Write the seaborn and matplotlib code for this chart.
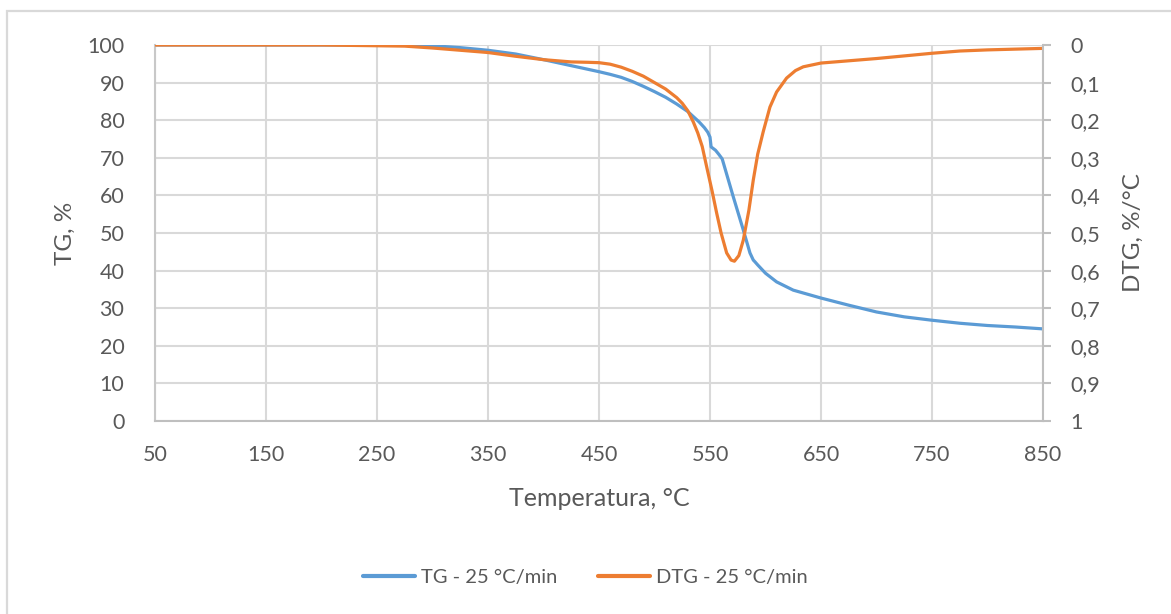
import matplotlib
matplotlib.use("Agg")
import matplotlib.pyplot as plt
import seaborn as sns
from matplotlib.patches import Rectangle
from matplotlib.lines import Line2D

# ---- data ----
tg_temp = [50, 100, 150, 200, 250, 280, 300, 325, 350, 375, 400, 425, 450, 460, 470,
           480, 490, 500, 510, 520, 530, 540, 545, 548, 550, 551, 555, 558, 561, 571,
           580, 586, 589, 590, 593, 600, 610, 625, 650, 675, 700, 725, 750, 775, 800,
           825, 850]
tg_vals = [100, 100, 100, 100, 100, 100, 99.8, 99.3, 98.6, 97.6, 96.1, 94.5, 92.9, 92.2, 91.4,
           90.3, 89.0, 87.6, 86.1, 84.3, 82.3, 79.6, 78.0, 76.8, 75.5, 72.9, 72.0, 70.9, 69.7, 59.6,
           50.8, 44.7, 42.8, 42.5, 41.5, 39.3, 37.0, 34.8, 32.7, 30.8, 29.0, 27.7, 26.8, 26.0, 25.4,
           25.0, 24.5]

dtg_temp = [50, 100, 150, 200, 250, 275, 300, 325, 350, 375, 400, 425, 440, 450, 460,
            470, 480, 490, 500, 510, 520, 525, 530, 535, 539, 543, 547, 552, 556, 560,
            565, 569, 572, 576, 580, 585, 589, 593, 598, 604, 610, 619, 627, 634, 650,
            700, 750, 775, 800, 850]
dtg_vals = [0, 0, 0, 0, 0.002, 0.003, 0.008, 0.014, 0.020, 0.030, 0.039, 0.045, 0.046, 0.047, 0.051,
            0.059, 0.070, 0.083, 0.100, 0.117, 0.140, 0.155, 0.175, 0.205, 0.234, 0.270, 0.324, 0.390, 0.447, 0.500,
            0.553, 0.572, 0.575, 0.560, 0.519, 0.440, 0.359, 0.290, 0.230, 0.165, 0.125, 0.088, 0.068, 0.058, 0.048,
            0.036, 0.022, 0.016, 0.013, 0.009]

x_ticks = [50, 150, 250, 350, 450, 550, 650, 750, 850]
tg_ticks = list(range(0, 101, 10))
dtg_ticks = [0, 0.1, 0.2, 0.3, 0.4, 0.5, 0.6, 0.7, 0.8, 0.9, 1.0]
dtg_ticklabels = ["0", "0,1", "0,2", "0,3", "0,4", "0,5", "0,6", "0,7", "0,8", "0,9", "1"]

tg_label = "TG - 25 °C/min"
dtg_label = "DTG - 25 °C/min"

BLUE = "#5B9BD5"
ORANGE = "#ED7D31"
GRID = "#D9D9D9"
TXT = "#595959"

sns.set_theme(style="white")
plt.rcParams['font.family'] = ['Lato', 'DejaVu Sans']

W, H = 1171, 614
fig = plt.figure(figsize=(W / 100, H / 100), dpi=100)
ax = fig.add_axes([155 / W, 1 - 421 / H, (1043 - 155) / W, (421 - 45) / H])
ax2 = ax.twinx()

sns.lineplot(x=tg_temp, y=tg_vals, ax=ax, color=BLUE, linewidth=2.3, legend=False)
sns.lineplot(x=dtg_temp, y=dtg_vals, ax=ax2, color=ORANGE, linewidth=2.3, legend=False)

ax.set_xlim(50, 850)
ax.set_ylim(0, 100)
ax2.set_ylim(1, 0)

ax.set_xticks(x_ticks)
ax.set_xticklabels([str(t) for t in x_ticks])
ax.set_yticks(tg_ticks)
ax.set_yticklabels([str(t) for t in tg_ticks])
ax2.set_yticks(dtg_ticks)
ax2.set_yticklabels(dtg_ticklabels)

ax.grid(True, color=GRID, linewidth=1.5)
ax.set_axisbelow(True)
ax2.grid(False)

for a in (ax, ax2):
    for s in a.spines.values():
        s.set_visible(False)
ax.spines['left'].set_visible(True)
ax.spines['left'].set_color("#C8C8C8")
ax.spines['left'].set_linewidth(1.5)
ax.spines['bottom'].set_visible(True)
ax.spines['bottom'].set_color("#BFBFBF")
ax.spines['bottom'].set_linewidth(1.5)
ax2.spines['right'].set_visible(True)
ax2.spines['right'].set_color("#BFBFBF")
ax2.spines['right'].set_linewidth(1.5)

ax.tick_params(axis='both', which='both', length=0, labelsize=15.5, labelcolor=TXT)
ax.tick_params(axis='x', pad=17)
ax.tick_params(axis='y', pad=22)
ax2.tick_params(axis='y', length=6, width=1.5, color="#BFBFBF", direction='out',
                labelsize=15.5, labelcolor=TXT, pad=14)

ax.set_xlabel("Temperatura, °C", fontsize=18, color=TXT, labelpad=16)
ax.set_ylabel("TG, %", fontsize=17.5, color=TXT, labelpad=8)
ax2.set_ylabel("DTG, %/°C", fontsize=17.5, color=TXT, labelpad=16)

handles = [Line2D([0], [0], color=BLUE, linewidth=3),
           Line2D([0], [0], color=ORANGE, linewidth=3)]
fig.legend(handles, [tg_label, dtg_label], loc='center', bbox_to_anchor=(0.5, 1 - 577 / H),
           ncol=2, frameon=False, fontsize=14.5, handlelength=2.6, handletextpad=0.3,
           columnspacing=2.0, labelcolor=TXT)

fig.patches.append(Rectangle((7 / W, -0.1), 1.2, 1 - 11 / H + 0.1, transform=fig.transFigure,
                             fill=False, edgecolor="#D9D9D9", linewidth=1.6, zorder=0))

fig.savefig("out.png", dpi=100, facecolor="white")
